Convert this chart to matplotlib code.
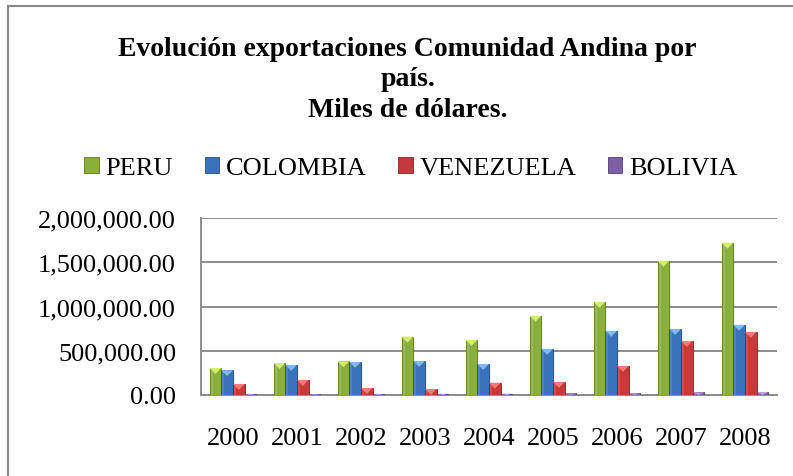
import numpy as np
import matplotlib
matplotlib.use('Agg')
import matplotlib.pyplot as plt
from matplotlib.patches import Rectangle, Polygon

plt.rcParams['font.family'] = ['Liberation Serif', 'DejaVu Serif']

# datos (miles de dólares)
years = ['2000', '2001', '2002', '2003', '2004', '2005', '2006', '2007', '2008']
peru = [306000, 362000, 382000, 660000, 623000, 895000, 1053000, 1517000, 1721000]
colombia = [280000, 340000, 374000, 385000, 351000, 521000, 725000, 747000, 793000]
venezuela = [125000, 170000, 79000, 68000, 139000, 147000, 328000, 611000, 713000]
bolivia = [12000, 10000, 12000, 14000, 15000, 18000, 20000, 30000, 35000]

series = ['PERU', 'COLOMBIA', 'VENEZUELA', 'BOLIVIA']
values = [peru, colombia, venezuela, bolivia]
colores = ['#8AB03A', '#3A72BA', '#C23A3A', '#7D5FA6']
bordes = ['#5E7C22', '#1F4C85', '#872222', '#553C7A']
claros = ['#D4EE6A', '#7FB8F2', '#F27A7A', '#B9A0E0']

titulo = ['Evolución exportaciones Comunidad Andina por', 'país.', 'Miles de dólares.']

fig = plt.figure(figsize=(7.93, 4.77), dpi=100)
ax = fig.add_axes([201/793, 81/477, 576/793, 177/477])

x = np.arange(len(years))
w = 0.183
ymax = 2000000
tri = ymax / 177 * 6   # altura del bisel (~6 px)

for i, (name, vals) in enumerate(zip(series, values)):
    pos = x + (i - 1.5) * w
    bars = ax.bar(pos, vals, w, color=colores[i], edgecolor=bordes[i],
                  linewidth=0.6, label=name, zorder=3)
    for b in bars:
        x0 = b.get_x()
        x1 = x0 + b.get_width()
        h = b.get_height()
        d = min(tri, h)
        # brillo lateral izquierdo
        ax.add_patch(Rectangle((x0 + b.get_width()*0.08, 0), b.get_width()*0.18, h,
                               color='white', alpha=0.12, lw=0, zorder=4))
        ax.add_patch(Polygon([[x0, h], [x1, h], [(x0 + x1)/2, h - d]], closed=True,
                             color=claros[i], lw=0, zorder=5))
    # sombra
    ax.bar(pos + 0.03, vals, w, bottom=-ymax*0.012, color='black', alpha=0.07,
           lw=0, zorder=2)

ax.set_xlim(-0.5, len(years) - 0.5)
ax.set_ylim(0, ymax)
ax.set_yticks(np.arange(0, ymax + 1, 500000))
ax.set_yticklabels([f'{v:,.2f}' for v in np.arange(0, ymax + 1, 500000)], fontsize=19)
ax.set_xticks(x)
ax.set_xticklabels(years, fontsize=19)
ax.tick_params(axis='y', length=0, pad=18)
ax.tick_params(axis='x', length=0, pad=23)
ax.grid(axis='y', color='#8C8C8C', linewidth=1.4, zorder=0)
for s in ['top', 'right']:
    ax.spines[s].set_visible(False)
ax.spines['left'].set_color('#8C8C8C')
ax.spines['left'].set_linewidth(1.4)
ax.spines['bottom'].set_color('#8C8C8C')
ax.spines['bottom'].set_linewidth(1.4)

# título, una línea a la vez
for linea, base in zip(titulo, [56, 86.5, 117]):
    fig.text(0.514, 1 - base/477, linea, ha='center', va='baseline',
             fontsize=20, fontweight='bold')

# leyenda
leg = fig.legend(loc='center', bbox_to_anchor=(0.518, 1 - 169/477), ncol=4,
                 frameon=False, fontsize=19, handlelength=0.55, handleheight=0.55,
                 handletextpad=0.25, columnspacing=1.2)

# marco del gráfico
fig.patches.append(Rectangle((8/793, -0.1), 1.2, (477 - 7)/477 + 0.1,
                             transform=fig.transFigure, fill=False,
                             edgecolor='#888888', linewidth=1.5))

plt.savefig('out.png', dpi=100)
